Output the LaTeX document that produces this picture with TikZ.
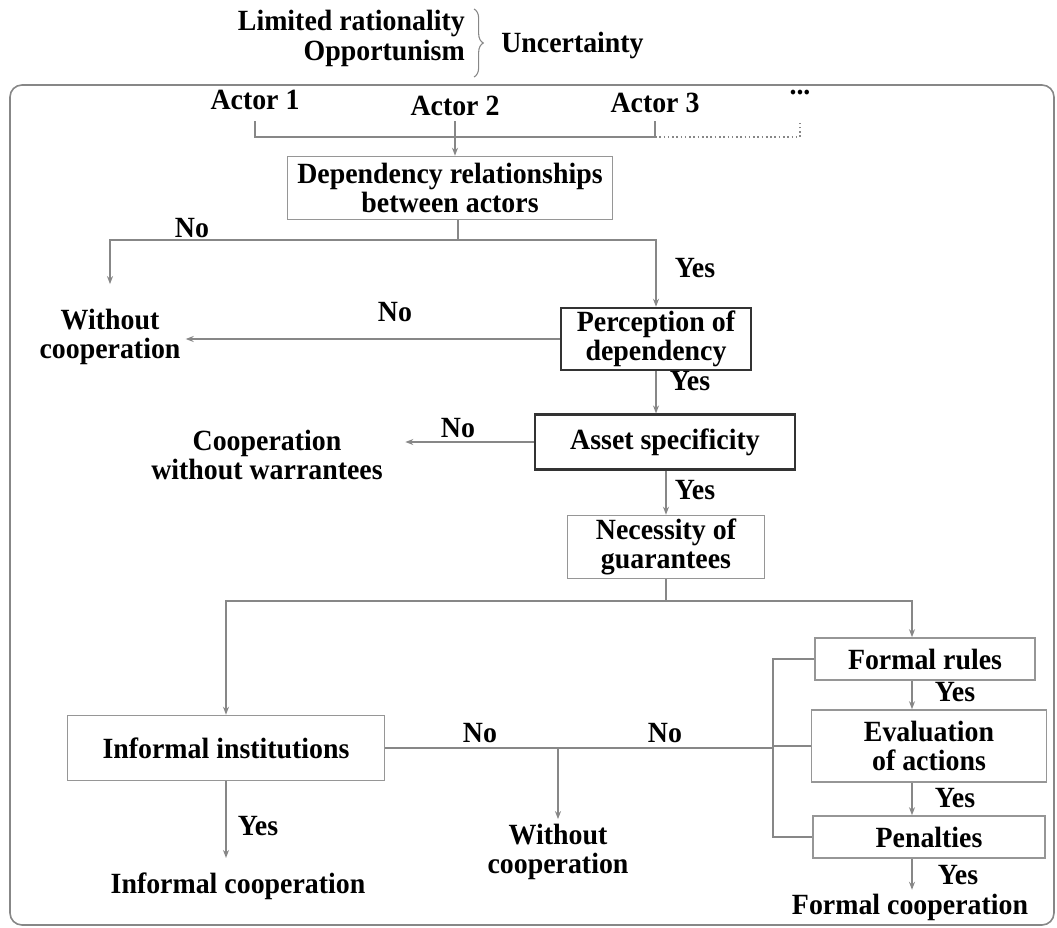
\documentclass[tikz,border=0pt]{standalone}
\usepackage{fontspec}
\setmainfont{Liberation Serif}[FakeStretch=0.95]
\usetikzlibrary{arrows.meta,decorations.pathreplacing}

\definecolor{lnc}{RGB}{135,135,135}
\definecolor{boxc}{RGB}{150,150,150}
\newcommand{\fsz}{\fontsize{22}{21.5}\selectfont\bfseries}

\tikzset{
  box/.style={draw=boxc, line width=1.2pt, fill=white, align=center, font=\fsz, inner sep=0pt},
  darkbox/.style={box, draw=black!80, line width=1.9pt},
  lbl/.style={font=\fsz, align=center, inner sep=0.75pt},
  conn/.style={draw=lnc, line width=1.2pt},
  arr/.style={conn, -{Stealth[length=6pt,width=4.5pt]}}
}

\begin{document}
\begin{tikzpicture}[x=0.75pt,y=0.75pt,yscale=-1,xscale=1]
\useasboundingbox (0,0) rectangle (1057,928);

%Shape: Frame
\draw [lnc, line width=1.2pt, rounded corners=9pt] (10,85) rectangle (1054,925);

% Text Node
\node [lbl, anchor=east] (lr) at (466,23) {Limited rationality};
% Text Node
\node [lbl, anchor=east] (op) at (466,53) {Opportunism};
%Shape: Brace
\draw [lnc, line width=0.8pt, decorate, decoration={brace, amplitude=7pt}] (474,9) -- (474,77);
% Text Node
\node [lbl, anchor=west] (unc) at (500,45) {Uncertainty};

% Actors
\node [lbl] (a1) at (255,100) {Actor 1};
\node [lbl] (a2) at (455,106) {Actor 2};
\node [lbl] (a3) at (655,103) {Actor 3};
\node [lbl] (more) at (800,93) {...};
\coordinate (tk) at (0,121);
\coordinate (bar) at (0,137);

%Shape: Rectangle
\node [box, minimum width=243.75pt, minimum height=47.25pt] (dep) at (450,188) {Dependency relationships\\between actors};
\node [darkbox, minimum width=142.5pt, minimum height=46.5pt] (perc) at (656,339) {Perception of\\dependency};
\node [darkbox, line width=1.6pt, minimum width=195pt, minimum height=41.25pt] (asset) at (665,442) {Asset specificity};
\node [box, minimum width=147.75pt, minimum height=47.25pt] (nec) at (666,547) {Necessity of\\guarantees};
\node [box, minimum width=237.75pt, minimum height=48.75pt] (inf) at (226,748) {Informal institutions};
\node [box, minimum width=165pt, minimum height=31.5pt] (formal) at (925,659) {Formal rules};
\node [box, minimum width=176.25pt, minimum height=54pt] (eval) at (929,746) {Evaluation\\of actions};
\node [box, minimum width=174pt, minimum height=31.5pt] (pen) at (929,837) {Penalties};

% Text Node
\node [lbl] (wc1) at (110,337) {Without\\cooperation};
\node [lbl] (coop) at (267,455) {Cooperation\\without warrantees};
\node [lbl] (wc2) at (558,852) {Without\\cooperation};
\node [lbl] (ic) at (238,886) {Informal cooperation};
\node [lbl] (fc) at (910,907) {Formal cooperation};

% Yes / No labels
\node [lbl] (no1) at (192,228) {No};
\node [lbl] (yes1) at (695,268) {Yes};
\node [lbl] (no2) at (395,312) {No};
\node [lbl] (yes2) at (690,381) {Yes};
\node [lbl] (no3) at (458,428) {No};
\node [lbl] (yes3) at (695,490) {Yes};
\node [lbl] (yes4) at (955,692) {Yes};
\node [lbl] (no4) at (480,733) {No};
\node [lbl] (no5) at (665,733) {No};
\node [lbl] (yes5) at (955,798) {Yes};
\node [lbl] (yes6) at (258,826) {Yes};
\node [lbl] (yes7) at (958,875) {Yes};

%Straight Lines
\draw [conn] (a1 |- tk) -- (a1 |- bar) -- (a3 |- bar) -- (a3 |- tk);
\draw [conn, dotted] (a3 |- bar) -- (more |- bar) -- (more |- tk);
\draw [arr] (a2 |- tk) -- (a2 |- dep.north);
\coordinate (s1) at (458,240);
\draw [conn] (dep.south -| s1) -- (s1);
\draw [arr, shorten >=18pt] (s1) -| (wc1.north);
\draw [arr] (s1) -| (perc.north);
\draw [arr, shorten >=3pt] (perc.west) -- (perc.west -| wc1.east);
\draw [arr] (perc.south) -- (perc.south |- asset.north);
\draw [arr, shorten >=16pt] (asset.west) -- (asset.west -| coop.east);
\draw [arr] (nec.north |- asset.south) -- (nec.north);
\coordinate (s2) at (666,601);
\draw [conn] (nec.south) -- (s2);
\draw [arr] (s2) -| (inf.north);
\coordinate (cx) at (912,0);
\draw [arr] (s2) -| (cx |- formal.north);
\draw [arr] (cx |- formal.south) -- (cx |- eval.north);
\draw [arr] (cx |- eval.south) -- (cx |- pen.north);
\draw [arr, shorten >=2pt] (cx |- pen.south) -- (cx |- fc.north);
\coordinate (vx) at (773,0);
\draw [conn] (formal.west) -| (vx |- pen.west) -- (pen.west);
\draw [conn] (vx |- eval.west) -- (eval.west);
\draw [conn] (inf.east) -- (vx |- inf.east);
\draw [arr, shorten >=3pt] (wc2.north |- inf.east) -- (wc2.north);
\draw [arr, shorten >=10pt] (inf.south) -- (inf.south |- ic.north);

\end{tikzpicture}
\end{document}
